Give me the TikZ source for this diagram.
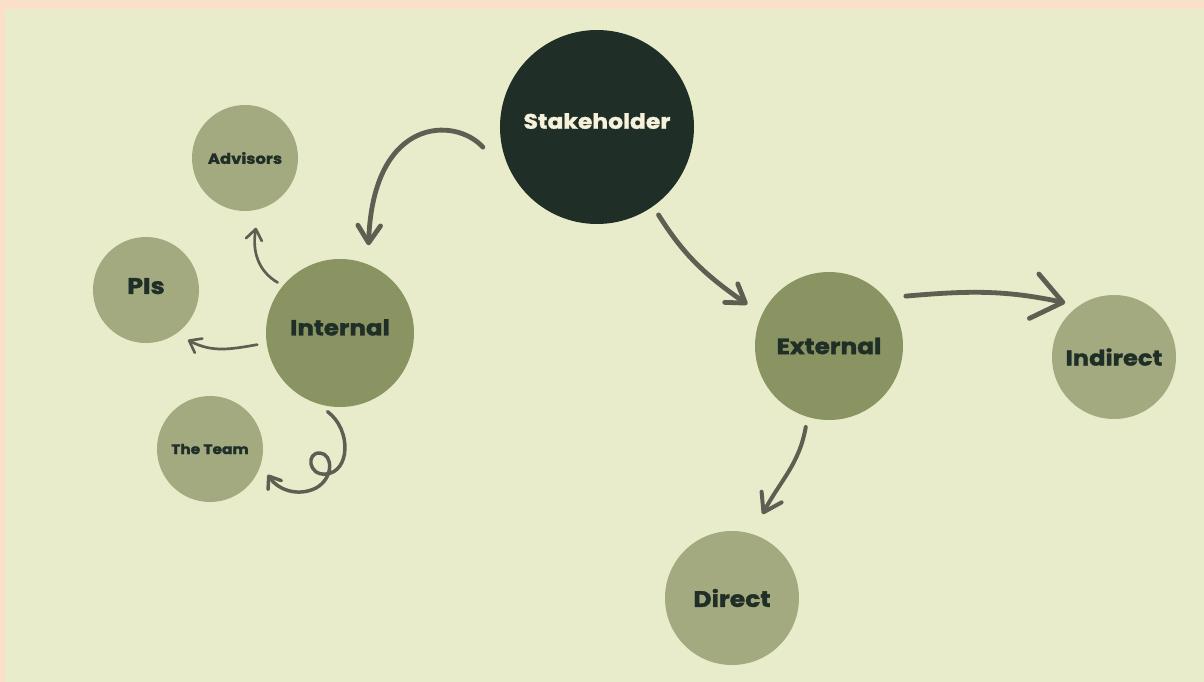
\documentclass[tikz,border=0pt]{standalone}
\usepackage{fontspec}
\setmainfont{Poppins}[BoldFeatures={FakeBold=1.5,FakeStretch=1.12}]
\usetikzlibrary{arrows.meta,calc}
\definecolor{peach}{HTML}{FAE0C8}
\definecolor{paper}{HTML}{E8ECCA}
\definecolor{forest}{HTML}{1F2E26}
\definecolor{cream}{HTML}{F6F1DA}
\definecolor{moss}{HTML}{8A9462}
\definecolor{sage}{HTML}{A3AA80}
\definecolor{pencil}{HTML}{5E5E52}
\begin{document}
\begin{tikzpicture}[x=0.75pt,y=-0.75pt,
  bubble/.style={circle,inner sep=0pt,text=forest},
  link/.style={draw=pencil,line width=3.6pt,line cap=round,
    -{Straight Barb[length=13pt,width=17pt,round]}},
  small link/.style={draw=pencil,line width=2pt,line cap=round,
    -{Straight Barb[length=8pt,width=12pt,round]}}]
  \useasboundingbox (0,0) rectangle (1204,682);
  \fill[peach] (0,0) rectangle (1204,682);
  \fill[paper] (5,9) rectangle (1204,682);

  \node[bubble,fill=forest,text=cream,minimum size=145.5pt,text depth=9pt,font=\bfseries\fontsize{15.7}{18}\selectfont] (stake) at (597,127) {Stakeholder};
  \node[bubble,fill=moss,minimum size=111pt,text depth=8.5pt,font=\bfseries\fontsize{16.4}{19}\selectfont] (int) at (340,333) {Internal};
  \node[bubble,fill=moss,minimum size=111pt,font=\bfseries\fontsize{16.6}{19}\selectfont] (ext) at (829,346) {External};
  \node[bubble,fill=sage,minimum size=79.5pt,font=\bfseries\fontsize{11}{13}\selectfont] (adv) at (245,158) {Advisors};
  \node[bubble,fill=sage,minimum size=79.5pt,text depth=6pt,font=\bfseries\fontsize{17}{19}\selectfont] (pis) at (146,290) {PIs};
  \node[bubble,fill=sage,minimum size=79.5pt,font=\bfseries\fontsize{10.3}{12}\selectfont] (team) at (210,449) {The Team};
  \node[bubble,fill=sage,minimum size=93pt,font=\bfseries\fontsize{16.2}{19}\selectfont] (ind) at (1114,357) {Indirect};
  \node[bubble,fill=sage,minimum size=100.5pt,font=\bfseries\fontsize{16.8}{19}\selectfont] (dir) at (732,598) {Direct};

  \draw[link] ($(stake.190)!-14pt!(stake.center)$) to[out=132,in=88,out looseness=0.7,in looseness=2.2] ($(int.72)!-13.5pt!(int.center)$);
  \draw[link] ($(stake.-55)!-7.5pt!(stake.center)$) to[out=-58,in=145] ($(ext.153)!-13pt!(ext.center)$);
  \draw[link,-{Straight Barb[length=22pt,width=34pt,round]}] ($(ext.33)!-13pt!(ext.center)$) to[out=5,in=168] ($(ind.132)!-8pt!(ind.center)$);
  \draw[link,line width=3pt] ($(ext.-106)!-7.5pt!(ext.center)$) to[out=-100,in=62] ($(dir.70)!-16.5pt!(dir.center)$);

  \draw[small link] ($(int.141)!-4.5pt!(int.center)$) to[out=150,in=-100] ($(adv.-81)!-13pt!(adv.center)$);
  \draw[small link] ($(int.188)!-7pt!(int.center)$) to[out=190,in=-28] ($(pis.-50)!-9pt!(pis.center)$);
  \draw[small link,line width=2.6pt] ($(int.-99)!-4pt!(int.center)$)
    .. controls (352,430) and (350,472) .. (326,474)
    .. controls (308,476) and (306,452) .. (320,453)
    .. controls (333,454) and (334,478) .. (316,488)
    .. controls (298,497) and (278,490) .. ($(team.-24)!-7.5pt!(team.center)$);
\end{tikzpicture}
\end{document}
